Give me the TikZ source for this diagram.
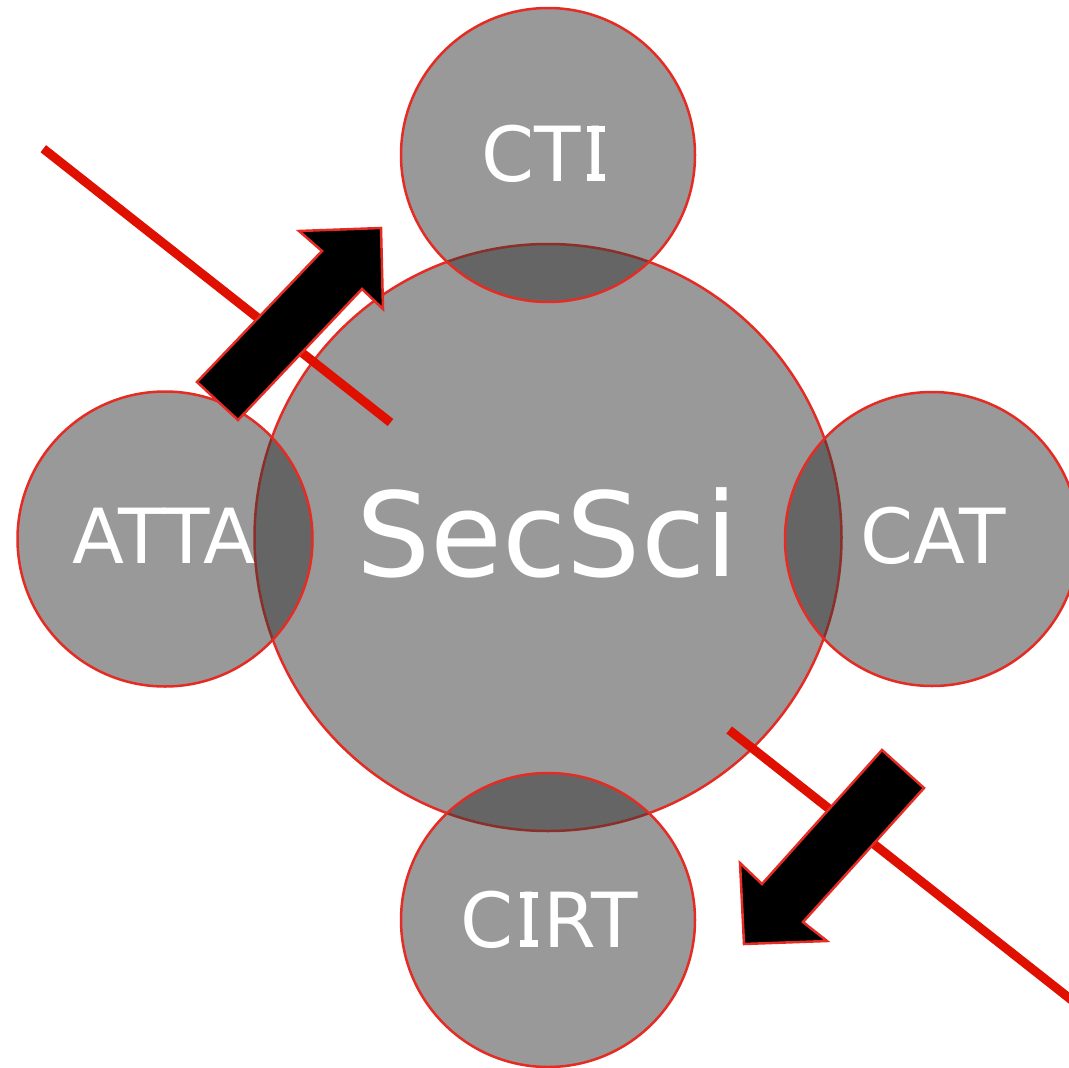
\documentclass[tikz,border=0pt]{standalone}
\usepackage{fontspec}
\setmainfont{DejaVu Sans}
\definecolor{circred}{RGB}{228,44,36}
\definecolor{linered}{RGB}{224,16,0}
\definecolor{fillgray}{RGB}{51,51,51}
% letter I with small bars, as in the reference face
\newcommand\myserifI{\hspace{0.05em}\rlap{\hspace{0.0275em}\rule{0.24em}{0.09em}}\rlap{\hspace{0.0275em}\rule[0.639em]{0.24em}{0.09em}}I\hspace{0.05em}}
\begin{document}
\begin{tikzpicture}[x=1pt,y=-1pt,
  bubble/.style={circle, draw=circred, line width=2.5pt, fill=fillgray, fill opacity=0.5, draw opacity=1, inner sep=0pt, outer sep=0pt},
  biglbl/.style={text=white, font=\fontsize{117}{140}\selectfont, anchor=base, inner sep=0pt},
  smalllbl/.style={text=white, font=\fontsize{76}{90}\selectfont, anchor=base, inner sep=0pt},
  redline/.style={draw=linered, line width=9pt},
  blockarrow/.style={draw=circred, line width=2.5pt, fill=black, line join=miter}]
\useasboundingbox (0,0) rectangle (1069,1068);
% circles
\node[bubble, minimum size=587pt] (sec) at (548,537.5) {};
\node[bubble, minimum size=294pt] (cti) at (548,155) {};
\node[bubble, minimum size=295pt] (atta) at (165,539) {};
\node[bubble, minimum size=294pt] (cat) at (932,539) {};
\node[bubble, minimum size=294pt] (cirt) at (548,920) {};
% labels
\node[biglbl] (tsec) at (547,576) {SecSci};
\node[smalllbl] (tcti) at (544,181) {CT\myserifI};
\begin{scope}
\clip (0,380) rectangle (256.5,700);
\node[smalllbl] (tatta) at (164,563) {ATTA};
\end{scope}
\node[smalllbl] (tcat) at (933,563) {CAT};
\node[smalllbl] (tcirt) at (549,947) {C\myserifI RT};
% red lines
\coordinate (l1a) at (43.3,148.7);
\coordinate (l1b) at (390.5,422.5);
\coordinate (l2a) at (729.2,730);
\coordinate (l2b) at (1100,1022.4);
\draw[redline] (l1a) -- (l1b);
\draw[redline] (l2a) -- (l2b);
% block arrows
\draw[blockarrow] (197,382) -- (322,251) -- (299,231) -- (381,228) -- (383,309) -- (362,289) -- (238,420) -- cycle;
\draw[blockarrow] (882,750) -- (924,788) -- (803,922) -- (827,941) -- (744,944) -- (740,863) -- (762,884) -- cycle;
\end{tikzpicture}
\end{document}
